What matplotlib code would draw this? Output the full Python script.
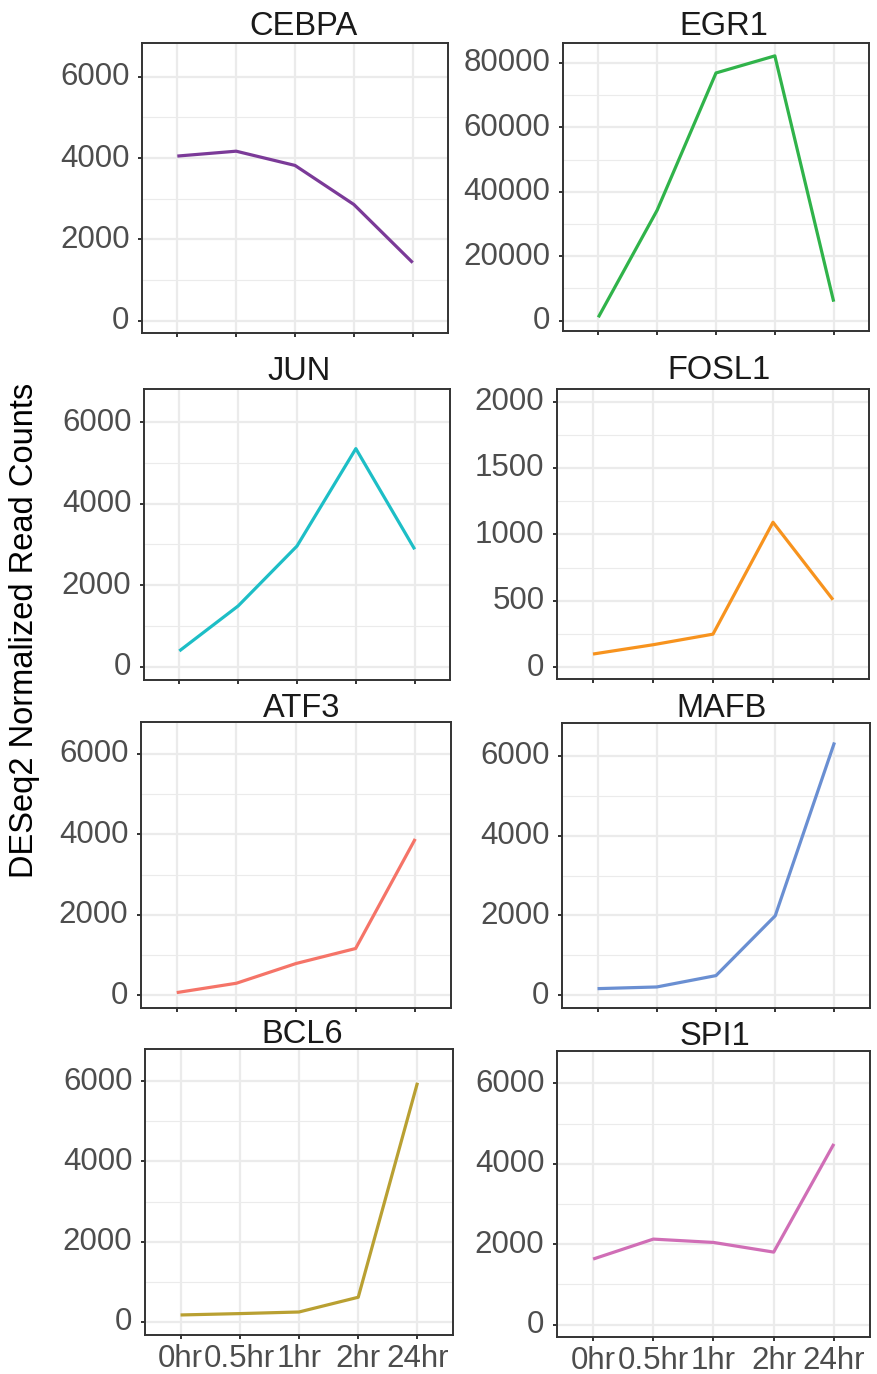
import matplotlib
matplotlib.use("Agg")
import matplotlib.pyplot as plt
from matplotlib.ticker import MultipleLocator
from matplotlib.transforms import ScaledTranslation

plt.rcParams['font.family'] = ['Liberation Sans', 'DejaVu Sans']

times = ["0hr", "0.5hr", "1hr", "2hr", "24hr"]

genes = ["CEBPA", "EGR1", "JUN", "FOSL1", "ATF3", "MAFB", "BCL6", "SPI1"]
cebpa = [4050, 4170, 3820, 2860, 1430]
egr1 = [1050, 34300, 76900, 82200, 5900]
jun = [385, 1490, 2960, 5350, 2880]
fosl1 = [98, 168, 248, 1091, 507]
atf3 = [67, 299, 789, 1162, 3884]
mafb = [167, 209, 494, 1992, 6334]
bcl6 = [175, 209, 249, 616, 5958]
spi1 = [1631, 2127, 2044, 1804, 4493]
values = [cebpa, egr1, jun, fosl1, atf3, mafb, bcl6, spi1]

colors = ["#7B3A98", "#30B34A", "#1DBEC6", "#F7931E",
          "#F57468", "#6A8FD2", "#B9A032", "#D06EB6"]

# panel boxes in pixels: left, top, right, bottom
boxes = [(142, 43, 448, 333), (563, 43, 869, 331),
         (144, 389, 450, 680), (557, 389, 869, 679),
         (141, 722, 451, 1008), (562, 723, 870, 1008),
         (145, 1049, 453, 1335), (557, 1051, 870, 1337)]
ylims = [(-300, 6830), (-3200, 86200),
         (-327, 6813), (-90, 2095),
         (-316, 6789), (-318, 6821),
         (-324, 6798), (-306, 6802)]
major = [2000, 20000, 2000, 500, 2000, 2000, 2000, 2000]
title_pos = [(304, 35), (724, 35), (299, 380), (719, 379),
             (302, 717), (722, 717), (302, 1043), (715, 1045)]

W, H = 878, 1374
fig = plt.figure(figsize=(W / 100, H / 100), dpi=100)

grid_c = "#EBEBEB"
axes = []
for i, g in enumerate(genes):
    l, t, r, b = boxes[i]
    ax = fig.add_axes([l / W, 1 - b / H, (r - l) / W, (b - t) / H])
    axes.append(ax)
    x = list(range(1, len(times) + 1))
    ax.plot(x, values[i], color=colors[i], lw=2.3, solid_capstyle='butt', zorder=3)
    ax.set_xlim(0.4, 5.6)
    ax.set_ylim(*ylims[i])
    ax.set_xticks(x)
    if i >= 6:
        ax.set_xticklabels(times)
    else:
        ax.set_xticklabels([])
    ax.yaxis.set_major_locator(MultipleLocator(major[i]))
    ax.yaxis.set_minor_locator(MultipleLocator(major[i] / 2))
    ax.grid(True, which='major', color=grid_c, lw=1.6, zorder=0)
    ax.grid(True, which='minor', axis='y', color=grid_c, lw=0.8, zorder=0)
    ax.set_axisbelow(True)
    for s in ax.spines.values():
        s.set_color("#333333")
        s.set_linewidth(1.4)
    ax.tick_params(which='major', length=3, width=1.4, color="#333333",
                   labelsize=22.5, labelcolor="#4D4D4D", pad=6)
    ax.tick_params(axis='x', pad=3.5)
    ax.tick_params(which='minor', length=0)
    fig.text(title_pos[i][0] / W, 1 - title_pos[i][1] / H, g,
             ha='center', va='baseline', fontsize=23.5, color="#1A1A1A")

fig.text(25 / W, 1 - 630 / H, "DESeq2 Normalized Read Counts", rotation=90,
         ha='center', va='center', fontsize=23.5, color="#000000")

fig.canvas.draw()
up = ScaledTranslation(0, 3 / 100, fig.dpi_scale_trans)
for ax in axes:
    for lab in ax.get_yticklabels():
        lab.set_transform(lab.get_transform() + up)

fig.savefig("out.png", dpi=100, facecolor="white")
